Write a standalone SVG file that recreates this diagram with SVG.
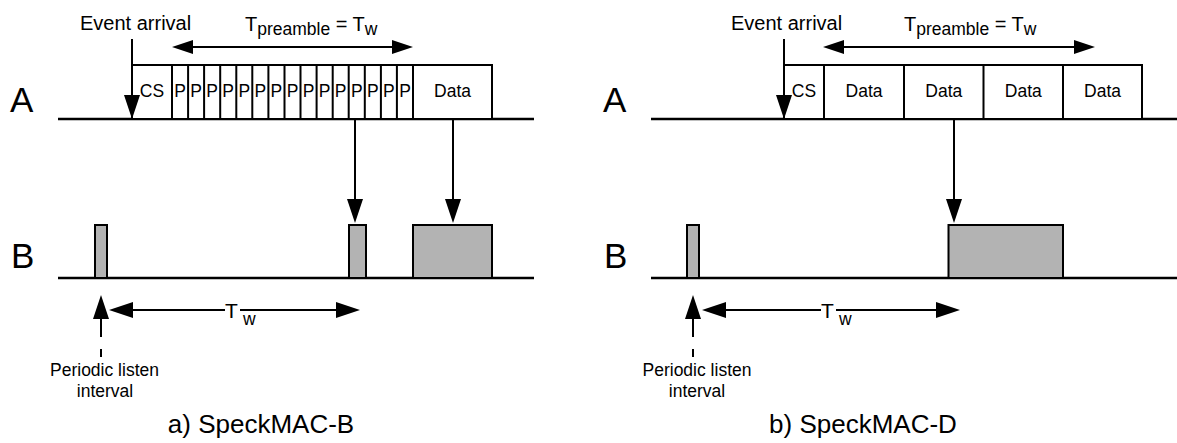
<svg xmlns="http://www.w3.org/2000/svg" width="1177" height="443" viewBox="0 0 1177 443">
  <defs>
    <!-- filled arrowheads; the line ends at the base and the tip extends past it -->
    <marker id="head" markerUnits="userSpaceOnUse" viewBox="0 0 24 16" markerWidth="24" markerHeight="16" refX="0" refY="8" orient="auto-start-reverse">
      <path d="M0,0 L24,8 L0,16 z" fill="#000"/>
    </marker>
    <marker id="head-s" markerUnits="userSpaceOnUse" viewBox="0 0 21 14" markerWidth="21" markerHeight="14" refX="0" refY="7" orient="auto-start-reverse">
      <path d="M0,0 L21,7 L0,14 z" fill="#000"/>
    </marker>
  </defs>
  <style>
    .base{stroke:#000;stroke-width:2.5;fill:none}
    .box{fill:#fff;stroke:#000;stroke-width:2}
    .on{fill:#b3b3b3;stroke:#000;stroke-width:2}
    .ln{stroke:#000;stroke-width:2;fill:none}
    .arr{stroke:#000;stroke-width:2;fill:none;marker-end:url(#head)}
    .up{stroke:#000;stroke-width:2;fill:none;marker-start:url(#head)}
    .dbl{stroke:#000;stroke-width:2;fill:none;marker-start:url(#head-s);marker-end:url(#head-s)}
    text{font-family:"Liberation Sans",Arial,sans-serif;fill:#000}
    .big{font-size:35px}
    .lbl{font-size:20px}
    .sub{font-size:17.5px}
    .cell{font-size:17.5px;text-anchor:middle}
    .note{font-size:17.5px;text-anchor:middle}
    .cap{font-size:26px;text-anchor:middle}
  </style>

  <rect x="0" y="0" width="1177" height="443" fill="#fff"/>

  <!-- ===== a) SpeckMAC-B ===== -->
  <g id="a-node-A">
    <text class="big" x="10" y="112">A</text>
    <line class="base" x1="58" y1="119" x2="534" y2="119"/>
  </g>
  <g id="a-node-B">
    <text class="big" x="11" y="268">B</text>
    <line class="base" x1="58" y1="278" x2="534" y2="278"/>
  </g>
  <g id="a-tx-frame">
    <rect class="box" x="132" y="65" width="360" height="54"/>
    <path class="ln" d="M172,65V119 M188.1,65V119 M204.1,65V119 M220.2,65V119 M236.3,65V119 M252.3,65V119 M268.4,65V119 M284.5,65V119 M300.5,65V119 M316.6,65V119 M332.7,65V119 M348.7,65V119 M364.8,65V119 M380.9,65V119 M396.9,65V119 M413,65V119"/>
    <text class="cell" x="152" y="97">CS</text>
    <text class="cell" x="180" y="97">P</text>
    <text class="cell" x="196.1" y="97">P</text>
    <text class="cell" x="212.2" y="97">P</text>
    <text class="cell" x="228.2" y="97">P</text>
    <text class="cell" x="244.3" y="97">P</text>
    <text class="cell" x="260.4" y="97">P</text>
    <text class="cell" x="276.4" y="97">P</text>
    <text class="cell" x="292.5" y="97">P</text>
    <text class="cell" x="308.6" y="97">P</text>
    <text class="cell" x="324.6" y="97">P</text>
    <text class="cell" x="340.7" y="97">P</text>
    <text class="cell" x="356.8" y="97">P</text>
    <text class="cell" x="372.8" y="97">P</text>
    <text class="cell" x="388.9" y="97">P</text>
    <text class="cell" x="405" y="97">P</text>
    <text class="cell" x="452.5" y="97">Data</text>
  </g>
  <g id="a-rx-slots">
    <rect class="on" x="95" y="225" width="12" height="53"/>
    <rect class="on" x="349" y="225" width="17" height="53"/>
    <rect class="on" x="413" y="225" width="79" height="53"/>
  </g>
  <g id="a-event">
    <text class="lbl" x="80" y="30">Event arrival</text>
  </g>
  <g id="a-preamble-label">
    <text class="lbl" x="245" y="31">T<tspan class="sub" dy="4">preamble</tspan><tspan dy="-4"> = T</tspan><tspan class="sub" dy="4">w</tspan></text>
  </g>
  <g id="a-tw-label">
    <text style="font-size:21px" x="225" y="318">T<tspan class="sub" x="243" dy="7">w</tspan></text>
  </g>
  <g id="a-listen">
    <text class="note" x="104.5" y="376">Periodic listen</text>
    <text class="note" x="105" y="397">interval</text>
  </g>
  <g id="a-caption">
    <text class="cap" x="261" y="433">a) SpeckMAC-B</text>
  </g>

  <!-- ===== b) SpeckMAC-D ===== -->
  <g id="b-node-A">
    <text class="big" x="603" y="112">A</text>
    <line class="base" x1="651" y1="119" x2="1177" y2="119"/>
  </g>
  <g id="b-node-B">
    <text class="big" x="604" y="268">B</text>
    <line class="base" x1="651" y1="278" x2="1177" y2="278"/>
  </g>
  <g id="b-tx-frame">
    <rect class="box" x="784" y="65" width="358" height="54"/>
    <path class="ln" d="M824,65V119 M904,65V119 M983.5,65V119 M1063,65V119"/>
    <text class="cell" x="804" y="97">CS</text>
    <text class="cell" x="864" y="97">Data</text>
    <text class="cell" x="943.8" y="97">Data</text>
    <text class="cell" x="1023.3" y="97">Data</text>
    <text class="cell" x="1102.5" y="97">Data</text>
  </g>
  <g id="b-rx-slots">
    <rect class="on" x="687" y="225" width="12" height="53"/>
    <rect class="on" x="948.5" y="225" width="114.5" height="53"/>
  </g>
  <g id="b-event">
    <text class="lbl" x="731" y="30">Event arrival</text>
  </g>
  <g id="b-preamble-label">
    <text class="lbl" x="904" y="31">T<tspan class="sub" dy="4">preamble</tspan><tspan dy="-4"> = T</tspan><tspan class="sub" dy="4">w</tspan></text>
  </g>
  <g id="b-tw-label">
    <text style="font-size:21px" x="821" y="318">T<tspan class="sub" x="839" dy="7">w</tspan></text>
  </g>
  <g id="b-listen">
    <text class="note" x="697" y="376">Periodic listen</text>
    <text class="note" x="697" y="397">interval</text>
  </g>
  <g id="b-caption">
    <text class="cap" x="863" y="433">b) SpeckMAC-D</text>
  </g>

  <!-- ===== connectors ===== -->
  <g id="connectors">
    <!-- a) -->
    <line class="arr" x1="132" y1="39" x2="132" y2="95"/>
    <line class="dbl" x1="193" y1="47" x2="392" y2="47"/>
    <line class="arr" x1="355" y1="119" x2="355" y2="199"/>
    <line class="arr" x1="453" y1="119" x2="453" y2="199"/>
    <line class="up" x1="101" y1="319" x2="101" y2="337"/>
    <line class="ln" x1="101" y1="349" x2="101" y2="357"/>
    <line class="ln" x1="133" y1="310" x2="225" y2="310" style="marker-start:url(#head)"/>
    <line class="arr" x1="240" y1="310" x2="336" y2="310"/>
    <!-- b) -->
    <line class="arr" x1="784" y1="39" x2="784" y2="95"/>
    <line class="dbl" x1="844" y1="47" x2="1074" y2="47"/>
    <line class="arr" x1="954" y1="119" x2="954" y2="199"/>
    <line class="up" x1="693" y1="319" x2="693" y2="337"/>
    <line class="ln" x1="693" y1="349" x2="693" y2="357"/>
    <line class="ln" x1="726" y1="310" x2="821" y2="310" style="marker-start:url(#head)"/>
    <line class="arr" x1="836" y1="310" x2="936" y2="310"/>
  </g>
</svg>
